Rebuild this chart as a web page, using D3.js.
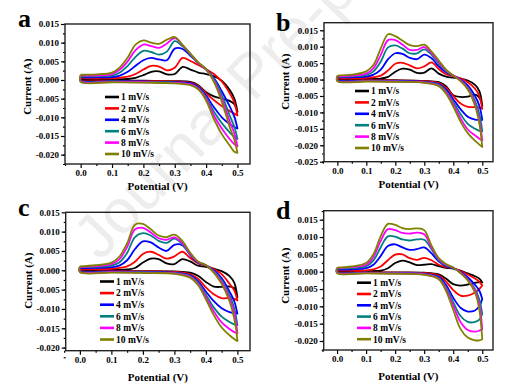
<!DOCTYPE html>
<html lang="en">
<head>
<meta charset="UTF-8">
<title>CV curves</title>
<style>
  body { margin: 0; background: #fff; }
  svg text { font-family: "Liberation Serif", "Times New Roman", serif; font-weight: bold; }
</style>
</head>
<body>
<div id="chart"></div>
<script src="https://cdn.jsdelivr.net/npm/d3@7"></script>
<script>
// scan rates and colours
const rates = ['1 mV/s', '2 mV/s', '4 mV/s', '6 mV/s', '8 mV/s', '10 mV/s']
const colors = ['#000000', '#ff0000', '#0000ff', '#008080', '#ff00ff', '#808000']

// potential grid (V) for the anodic (upper) and cathodic (lower) sweeps
const upperV = [0, 0.05, 0.1, 0.125, 0.15, 0.175, 0.2, 0.225, 0.25, 0.275, 0.3, 0.325, 0.35, 0.375, 0.4, 0.425, 0.45, 0.475, 0.49, 0.5]
const lowerV = [0.5, 0.49, 0.475, 0.45, 0.425, 0.4, 0.375, 0.35, 0.3, 0.2, 0.1, 0]

// currents in mA, one row per scan rate
const aUpper = [
  [0.3, 0.2, 0.2, 0.2, 0.3, 0.6, 1.3, 2.2, 2.3, 1.5, 1.6, 3.5, 2.8, 2.0, 1.6, 1.0, -0.2, -2.6, -5.0, -8.5],
  [0.5, 0.4, 0.5, 0.6, 0.9, 1.6, 2.8, 3.8, 3.6, 2.6, 3.3, 5.9, 5.1, 4.0, 2.9, 1.6, -0.4, -3.5, -6.0, -9.5],
  [0.8, 0.7, 0.8, 1.2, 2.2, 3.8, 5.3, 5.9, 5.5, 5.3, 8.4, 8.3, 6.5, 4.6, 2.9, 0.5, -3.0, -7.0, -9.8, -13.0],
  [1.0, 1.0, 1.2, 2.0, 3.8, 6.2, 7.8, 7.5, 6.8, 7.6, 10.4, 9.0, 6.7, 4.5, 2.8, 0.2, -4.0, -9.5, -12.5, -15.8],
  [1.2, 1.2, 1.6, 2.8, 5.0, 8.0, 9.5, 9.1, 8.6, 9.8, 11.2, 9.3, 7.0, 4.6, 2.8, -0.2, -5.0, -11.0, -14.3, -17.8],
  [1.4, 1.5, 2.0, 3.4, 6.0, 9.5, 10.6, 10.0, 9.7, 10.8, 11.5, 9.4, 7.1, 4.7, 2.9, -0.5, -5.8, -12.5, -16.0, -19.5]
]
const aLower = [
  [-8.5, -6.5, -5.6, -5.0, -4.4, -3.3, -1.4, -0.5, -0.3, -0.2, -0.1, 0.0],
  [-9.5, -9.0, -8.3, -7.0, -5.4, -3.6, -1.6, -0.7, -0.4, -0.3, -0.2, -0.1],
  [-13.0, -12.6, -11.8, -10.0, -7.3, -4.2, -1.9, -0.9, -0.6, -0.4, -0.3, -0.2],
  [-15.8, -15.2, -14.0, -11.5, -8.5, -4.6, -2.1, -1.1, -0.7, -0.5, -0.4, -0.3],
  [-17.8, -17.2, -15.8, -13.0, -9.5, -5.0, -2.3, -1.2, -0.8, -0.6, -0.5, -0.4],
  [-19.5, -19.2, -17.5, -14.5, -10.5, -5.5, -2.5, -1.4, -0.9, -0.7, -0.6, -0.5]
]
const bUpper = [
  [0.2, 0.2, 0.2, 0.2, 0.3, 0.8, 2.4, 3.3, 3.0, 2.0, 2.1, 3.4, 1.8, 0.9, 0.6, 0.3, -0.3, -1.6, -3.5, -8.0],
  [0.4, 0.4, 0.5, 0.7, 1.2, 2.8, 4.8, 5.1, 4.3, 3.4, 4.0, 5.2, 3.2, 1.6, 1.0, 0.4, -0.8, -2.8, -5.0, -8.9],
  [0.7, 0.7, 0.9, 1.5, 3.0, 6.2, 8.0, 7.8, 6.6, 6.2, 7.6, 6.5, 4.0, 2.2, 1.2, 0.0, -1.8, -5.0, -8.0, -12.3],
  [0.9, 1.0, 1.4, 2.5, 5.5, 9.8, 10.4, 9.4, 8.0, 8.0, 9.2, 7.5, 4.8, 2.6, 1.2, -0.2, -2.4, -6.5, -10.5, -15.8],
  [1.0, 1.2, 1.8, 3.5, 7.5, 12.0, 12.0, 10.6, 9.0, 9.0, 9.9, 8.0, 5.3, 2.8, 1.2, -0.3, -2.7, -7.3, -12.5, -18.5],
  [1.2, 1.5, 2.5, 4.5, 9.5, 13.8, 13.2, 11.8, 10.5, 10.2, 10.6, 8.5, 5.8, 3.0, 1.2, -0.5, -3.0, -8.0, -13.5, -20.5]
]
const bLower = [
  [-8.0, -5.5, -4.6, -5.2, -5.3, -4.8, -2.0, -0.8, -0.4, -0.2, -0.1, 0.0],
  [-8.9, -8.5, -8.4, -8.3, -7.3, -5.0, -2.5, -1.1, -0.5, -0.3, -0.2, -0.1],
  [-12.3, -12.3, -12.2, -11.3, -9.0, -6.0, -3.0, -1.4, -0.7, -0.4, -0.3, -0.2],
  [-15.8, -15.6, -15.0, -13.5, -10.5, -6.8, -3.5, -1.6, -0.8, -0.5, -0.4, -0.3],
  [-18.5, -18.0, -17.0, -15.2, -11.8, -7.5, -3.9, -1.8, -0.9, -0.6, -0.5, -0.4],
  [-20.5, -19.8, -18.6, -16.3, -12.8, -8.2, -4.3, -2.0, -1.0, -0.7, -0.6, -0.5]
]
const cUpper = [
  [0.2, 0.1, 0.1, 0.1, 0.2, 0.6, 2.0, 3.0, 2.9, 1.8, 1.6, 2.9, 2.3, 1.2, 0.9, 0.4, -0.2, -1.5, -3.2, -7.0],
  [0.3, 0.3, 0.4, 0.6, 1.0, 2.2, 4.2, 4.8, 4.0, 3.0, 3.6, 4.8, 3.2, 1.8, 1.2, 0.3, -1.0, -3.5, -5.2, -7.8],
  [0.6, 0.6, 0.8, 1.2, 2.6, 5.5, 7.5, 7.2, 5.9, 5.0, 6.6, 6.5, 4.0, 2.0, 1.3, 0.0, -2.0, -5.5, -8.0, -11.2],
  [0.8, 0.9, 1.2, 2.0, 4.5, 8.6, 9.6, 9.0, 7.6, 7.1, 8.2, 6.8, 4.1, 2.1, 1.3, -0.2, -2.6, -6.5, -9.8, -14.2],
  [0.9, 1.1, 1.6, 2.8, 6.0, 10.6, 11.0, 9.8, 8.3, 7.9, 8.5, 7.1, 4.3, 2.2, 1.3, -0.4, -3.0, -7.2, -11.0, -16.3],
  [1.0, 1.3, 2.0, 3.5, 7.0, 11.8, 12.0, 10.6, 9.0, 8.6, 9.2, 7.6, 4.6, 2.3, 1.3, -0.6, -3.5, -8.0, -12.5, -18.2]
]
const cLower = [
  [-7.0, -4.6, -4.2, -4.3, -4.2, -3.0, -1.4, -0.6, -0.3, -0.2, -0.1, 0.0],
  [-7.8, -7.4, -7.2, -7.2, -6.2, -4.4, -2.2, -1.0, -0.4, -0.3, -0.2, -0.1],
  [-11.2, -11.1, -10.8, -9.8, -8.0, -5.5, -2.8, -1.3, -0.6, -0.4, -0.3, -0.2],
  [-14.2, -14.0, -13.4, -12.0, -9.6, -6.3, -3.2, -1.5, -0.7, -0.5, -0.4, -0.3],
  [-16.3, -16.0, -15.2, -13.5, -10.6, -6.9, -3.5, -1.7, -0.8, -0.6, -0.5, -0.4],
  [-18.3, -17.8, -16.8, -14.8, -11.6, -7.5, -3.8, -1.9, -0.9, -0.7, -0.6, -0.5]
]
const dUpper = [
  [0.2, 0.1, 0.1, 0.2, 0.3, 1.0, 2.5, 3.2, 2.7, 1.9, 2.0, 2.2, 1.6, 1.1, 0.9, 0.3, -0.5, -1.3, -2.0, -3.1],
  [0.3, 0.3, 0.4, 0.7, 1.5, 3.3, 4.9, 5.0, 3.9, 3.4, 4.0, 3.3, 2.0, 1.3, 1.0, 0.2, -0.8, -2.0, -2.9, -4.0],
  [0.6, 0.7, 1.0, 2.0, 4.5, 7.4, 7.9, 7.0, 6.3, 6.5, 7.0, 5.3, 3.0, 1.6, 1.0, -0.1, -1.6, -3.8, -5.5, -7.9],
  [0.9, 1.0, 1.6, 3.2, 7.0, 10.2, 10.1, 9.3, 9.0, 9.3, 9.2, 6.5, 3.3, 1.8, 1.1, -0.3, -2.2, -5.0, -8.0, -12.2],
  [1.0, 1.3, 2.0, 4.2, 8.8, 12.3, 12.0, 11.2, 11.0, 11.3, 10.8, 7.0, 3.6, 2.0, 1.2, -0.3, -2.3, -5.5, -9.5, -16.6],
  [1.2, 1.5, 2.5, 5.0, 10.2, 13.8, 13.5, 12.6, 12.3, 12.5, 12.0, 7.6, 3.9, 2.2, 1.2, -0.4, -2.5, -6.0, -11.0, -19.5]
]
const dLower = [
  [-3.1, -3.0, -3.2, -3.7, -4.0, -3.6, -2.0, -0.8, -0.3, -0.2, -0.1, 0.0],
  [-4.0, -5.0, -6.0, -6.9, -6.9, -5.3, -2.8, -1.1, -0.4, -0.3, -0.2, -0.1],
  [-7.9, -10.0, -11.2, -11.5, -10.4, -7.5, -3.8, -1.5, -0.6, -0.4, -0.3, -0.2],
  [-12.2, -13.8, -14.5, -14.5, -12.8, -8.8, -4.5, -1.8, -0.7, -0.4, -0.3, -0.2],
  [-16.6, -17.0, -17.3, -16.8, -14.5, -9.8, -5.0, -2.0, -0.8, -0.5, -0.4, -0.3],
  [-19.5, -19.8, -19.8, -19.0, -16.5, -11.0, -5.5, -2.2, -0.9, -0.6, -0.5, -0.4]
]

// tick values
const xTicks = [0, 0.1, 0.2, 0.3, 0.4, 0.5]
const xMinor = [-0.05, 0.05, 0.15, 0.25, 0.35, 0.45]
const yTicks35 = [-20, -15, -10, -5, 0, 5, 10, 15]
const yTicks40 = [-25, -20, -15, -10, -5, 0, 5, 10, 15]

const panels = [
  { letter: 'a', up: aUpper, lo: aLower, left: 65, right: 250, top: 24, bottom: 164,
    xd: [-0.05, 0.54], yd: [-22.5, 15], yt: yTicks35, lx: 18, ly: 27,
    legX: 105, legY: 97, legStep: 11.4, xtY: 21, ytX: 26.7, ytY: 86.7 },
  { letter: 'b', up: bUpper, lo: bLower, left: 324, right: 493, top: 22.7, bottom: 161.7,
    xd: [-0.046, 0.537], yd: [-25, 17.3], yt: yTicks40, lx: 276, ly: 31,
    legX: 355, legY: 91, legStep: 11.4, xtY: 21.6, ytX: 284.7, ytY: 81.7 },
  { letter: 'c', up: cUpper, lo: cLower, left: 65.7, right: 250, top: 212.3, bottom: 350.7,
    xd: [-0.045, 0.54], yd: [-20.8, 15], yt: yTicks35, lx: 18, ly: 216,
    legX: 100, legY: 281.5, legStep: 11.6, xtY: 25.6, ytX: 28.3, ytY: 280.7 },
  { letter: 'd', up: dUpper, lo: dLower, left: 323.7, right: 493, top: 210.7, bottom: 350,
    xd: [-0.046, 0.537], yd: [-22.6, 17.6], yt: yTicks35, lx: 276, ly: 219,
    legX: 357, legY: 282.7, legStep: 11.3, xtY: 25.7, ytX: 284.7, ytY: 275.7 }
]

const svg = d3.select('#chart').append('svg')
  .attr('width', 526).attr('height', 388)

// faint watermark behind everything
svg.append('text')
  .attr('transform', 'translate(100,262) rotate(-46)')
  .attr('font-size', 62)
  .style('font-family', '"Liberation Sans", Arial, sans-serif')
  .style('font-weight', 'normal')
  .attr('fill', '#ededed')
  .text('Journal Pre-proof')

panels.forEach(p => {
  const x = d3.scaleLinear().domain(p.xd).range([p.left, p.right])
  const y = d3.scaleLinear().domain(p.yd).range([p.bottom, p.top])
  const g = svg.append('g')

  const yMinor = d3.range(p.yd[0] < -24 ? -25 : -22.5, p.yd[1], 2.5)

  // axes (outward ticks, no domain path)
  const yAx = g.append('g').attr('transform', `translate(${p.left},0)`)
    .call(d3.axisLeft(y).tickValues(yMinor).tickSize(2).tickFormat(''))
  yAx.append('g')
    .call(d3.axisLeft(y).tickValues(p.yt).tickSize(4).tickPadding(2)
      .tickFormat(d => (d / 1000).toFixed(3)))
  const xAx = g.append('g').attr('transform', `translate(0,${p.bottom})`)
    .call(d3.axisBottom(x).tickValues(xMinor).tickSize(2).tickFormat(''))
  xAx.append('g')
    .call(d3.axisBottom(x).tickValues(xTicks).tickSize(4).tickPadding(2)
      .tickFormat(d3.format('.1f')))
  g.selectAll('.domain').remove()
  g.selectAll('.tick line').attr('stroke', '#000').attr('stroke-width', 1.2)
  g.selectAll('.tick text').attr('font-size', 9).attr('fill', '#000')
    .style('font-family', '"Liberation Serif", serif').style('font-weight', 'bold')

  // curves
  const line = d3.line()
    .x(d => x(d[0])).y(d => y(d[1]))
    .curve(d3.curveCatmullRom.alpha(0.5))
  rates.forEach((r, i) => {
    const pts = upperV.map((v, j) => [v, p.up[i][j]])
      .concat(lowerV.map((v, j) => [v, p.lo[i][j]]))
    pts.push([upperV[0], p.up[i][0]])
    g.append('path')
      .attr('d', line(pts))
      .attr('fill', 'none')
      .attr('stroke', colors[i])
      .attr('stroke-width', 1.8)
      .attr('stroke-linejoin', 'round')
  })

  // frame
  g.append('rect')
    .attr('x', p.left).attr('y', p.top)
    .attr('width', p.right - p.left).attr('height', p.bottom - p.top)
    .attr('fill', 'none').attr('stroke', '#222').attr('stroke-width', 1.4)

  // legend
  rates.forEach((r, i) => {
    const ly = p.legY + i * p.legStep
    g.append('line')
      .attr('x1', p.legX).attr('x2', p.legX + 14)
      .attr('y1', ly).attr('y2', ly)
      .attr('stroke', colors[i]).attr('stroke-width', 2.6)
    g.append('text')
      .attr('x', p.legX + 16).attr('y', ly + 3.3)
      .attr('font-size', 9.5)
      .text(r)
  })

  // axis titles
  g.append('text')
    .attr('x', (p.left + p.right) / 2).attr('y', p.bottom + p.xtY + 4.5)
    .attr('text-anchor', 'middle').attr('font-size', 11)
    .text('Potential (V)')
  g.append('text')
    .attr('transform', `translate(${p.ytX},${p.ytY}) rotate(-90)`)
    .attr('text-anchor', 'middle').attr('dominant-baseline', 'central')
    .attr('font-size', 11)
    .text('Current (A)')

  // panel letter
  g.append('text')
    .attr('x', p.lx).attr('y', p.ly)
    .attr('font-size', 26)
    .text(p.letter)
})
</script>
</body>
</html>
